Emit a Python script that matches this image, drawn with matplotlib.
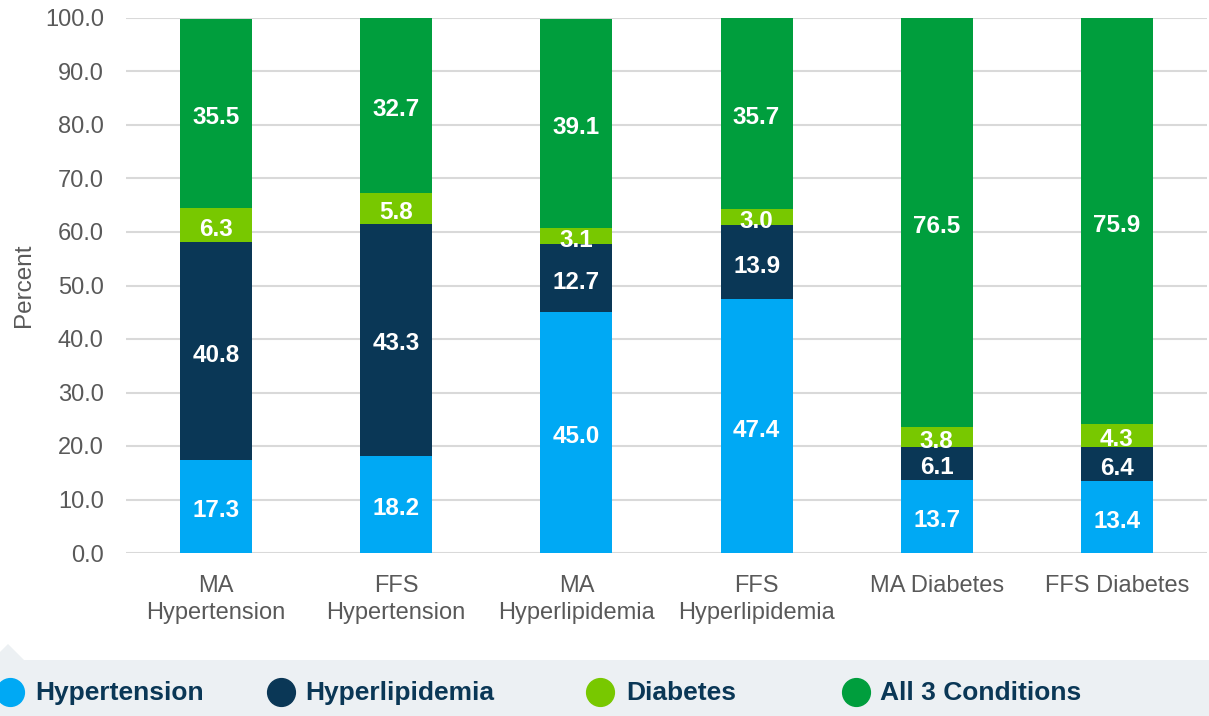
import matplotlib
matplotlib.use("Agg")
import matplotlib.pyplot as plt
from matplotlib.patches import Polygon
import numpy as np

plt.rcParams['font.family'] = ['Liberation Sans', 'DejaVu Sans']

categories = ["MA\nHypertension", "FFS\nHypertension", "MA\nHyperlipidemia",
              "FFS\nHyperlipidemia", "MA Diabetes", "FFS Diabetes"]
series_names = ["Hypertension", "Hyperlipidemia", "Diabetes", "All 3 Conditions"]
hypertension = [17.3, 18.2, 45.0, 47.4, 13.7, 13.4]
hyperlipidemia = [40.8, 43.3, 12.7, 13.9, 6.1, 6.4]
diabetes = [6.3, 5.8, 3.1, 3.0, 3.8, 4.3]
all3 = [35.5, 32.7, 39.1, 35.7, 76.5, 75.9]
yticks = [0, 10, 20, 30, 40, 50, 60, 70, 80, 90, 100]

colors = ["#00A9F4", "#0A3756", "#78C800", "#009E3D"]
series = [hypertension, hyperlipidemia, diabetes, all3]

W, H = 1209, 716
fig = plt.figure(figsize=(W / 100, H / 100), dpi=100)
ax = fig.add_axes([126 / W, 1 - 553 / H, (1207 - 126) / W, (553 - 18) / H])

x = np.arange(len(categories))
bottom = np.zeros(len(categories))
for vals, c in zip(series, colors):
    vals = np.array(vals)
    ax.bar(x, vals, width=0.4, bottom=bottom, color=c, zorder=3)
    for xi, b, v in zip(x, bottom, vals):
        ax.annotate(f"{v:.1f}", (xi, b + v / 2), xytext=(0, -3),
                    textcoords="offset points", ha="center", va="center",
                    color="white", fontsize=17.5, fontweight="bold", zorder=4)
    bottom += vals

ax.set_xlim(-0.5, len(categories) - 0.5)
ax.set_ylim(0, 100)
ax.set_yticks(yticks)
ax.set_yticklabels([f"{v:.1f}" for v in yticks])
ax.set_xticks(x)
ax.set_xticklabels(categories)
ax.tick_params(axis="both", length=0, labelsize=17, colors="#595959")
ax.tick_params(axis="x", pad=16)
ax.tick_params(axis="y", pad=16)
for lbl in ax.get_xticklabels():
    lbl.set_linespacing(1.28)
ax.yaxis.grid(True, color="#D9D9D9", linewidth=1.5, zorder=0)
for s in ax.spines.values():
    s.set_visible(False)
ax.set_ylabel("Percent", fontsize=17.5, color="#595959", labelpad=7)

# legend band
ov = fig.add_axes([0, 0, 1, 1], zorder=-1)
ov.set_xlim(0, W)
ov.set_ylim(H, 0)
ov.axis("off")
ov.add_patch(Polygon([[-10, 660], [-10, H + 5], [W + 5, H + 5], [W + 5, 660],
                      [24, 660], [8, 644], [-8, 660]], closed=True,
                     facecolor="#ECF0F3", edgecolor="none"))

ov2 = fig.add_axes([0, 0, 1, 1], zorder=5)
ov2.set_xlim(0, W)
ov2.set_ylim(H, 0)
ov2.axis("off")
circle_x = [10, 281, 600, 856]
text_x = [35, 305, 626, 880]
for name, c, cx, tx in zip(series_names, colors, circle_x, text_x):
    ov2.plot([cx], [692], marker="o", markersize=20, color=c, clip_on=False)
    ov2.text(tx, 693, name, ha="left", va="center", fontsize=19,
             fontweight="bold", color="#0A3756")

fig.savefig("out.png", dpi=100)
